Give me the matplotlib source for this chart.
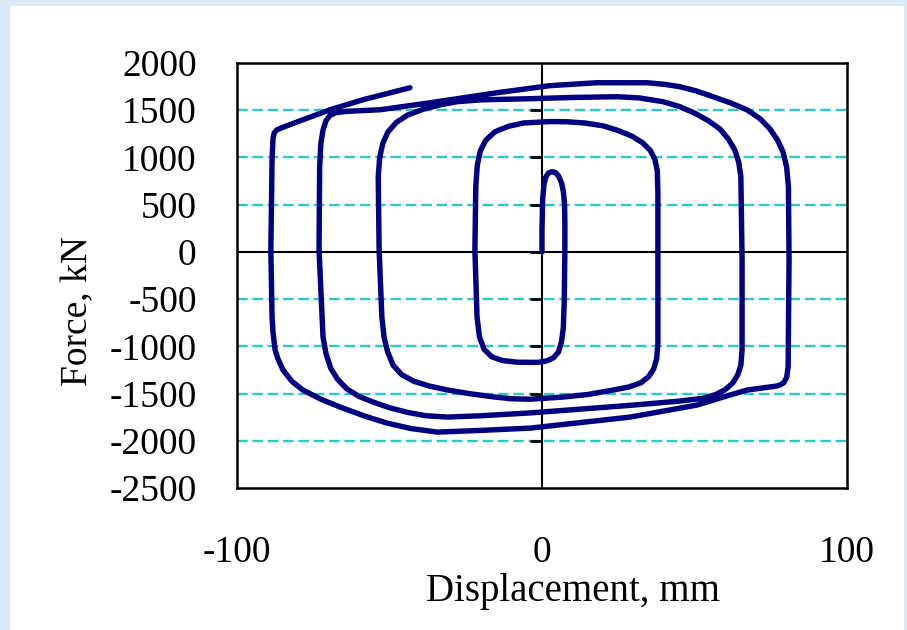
import numpy as np
import matplotlib
matplotlib.use("Agg")
import matplotlib.pyplot as plt
from matplotlib.patches import Rectangle
from matplotlib.lines import TICKLEFT

# Hysteresis curve (displacement in mm, force in kN)
disp = [0.0, 0.0, 0.2, 0.6, 1.2, 2.2, 3.3, 4.5, 5.5, 6.4, 7.0, 7.4, 7.5, 7.5,
        7.3, 7.0, 6.4, 5.4, 3.8, 1.5, -1.5, -8.2, -13.0, -16.5, -19.0, -20.5,
        -21.3, -22.0, -21.7, -21.2, -20.2, -18.5, -15.5, -11.0, -6.0, 2.6, 8.0,
        14.0, 20.0, 25.0, 29.5, 33.0, 35.5, 37.0, 37.8, 38.0,
        38.0, 38.0, 37.6, 36.6, 35.0, 32.5, 28.5, 23.3, 15.0, 6.9, -3.9, -10.0,
        -16.0, -24.0, -31.0, -37.0, -42.0, -46.0, -48.8, -50.6, -51.8, -52.5,
        -53.4, -53.7, -53.2, -52.2, -50.5, -47.8, -44.0, -39.0, -33.0, -27.9,
        -20.0, -3.9, 10.0, 24.6, 32.0, 39.7, 45.0, 50.0, 54.5, 58.4, 61.2, 63.2,
        64.5, 65.2, 65.6, 65.6, 65.2, 64.2, 62.5, 60.0, 57.0, 53.0, 45.0, 28.9,
        -3.9, -20.0, -31.1, -38.0, -44.0, -50.0, -55.4, -60.0, -64.0, -67.0,
        -69.3, -70.8, -71.8, -73.1, -72.9, -72.5, -71.8, -70.8, -69.5, -67.5,
        -64.0, -53.1, -36.7, -14.8, 2.6, 18.0, 34.4, 40.0, 45.2, 50.5, 56.1,
        62.0, 67.2, 71.5, 74.8, 77.3, 79.0, 80.2, 80.8, 81.0, 80.7, 80.2, 79.3,
        78.0, 77.0, 67.2, 61.6, 50.8, 28.9, -3.9, -20.0, -34.4, -43.0, -50.8,
        -58.0, -66.2, -72.5, -78.4, -82.0, -84.9, -86.6, -87.5, -88.2, -88.5,
        -88.9, -88.5, -88.2, -87.8, -86.9, -84.9, -78.4, -69.5, -58.7, -43.3]
force = [0, 233, 551, 700, 790, 838, 850, 838, 800, 730, 640, 500, 300, 21,
         -509, -800, -950, -1060, -1120, -1155, -1170, -1168, -1150, -1110, -1030, -900,
         -689, 21, 700, 920, 1070, 1180, 1270, 1330, 1365, 1380, 1378,
         1365, 1335, 1285, 1225, 1155, 1075, 980, 860, 625,
         -85, -965, -1130, -1240, -1320, -1385, -1430, -1463, -1510, -1537, -1560, -1555,
         -1535, -1500, -1462, -1420, -1370, -1300, -1200, -1060, -900, -689,
         21, 800, 1000, 1150, 1270, 1370, 1450, 1510, 1560, 1590,
         1610, 1622, 1635, 1643, 1630, 1590, 1540, 1470, 1390, 1300, 1190, 1080,
         950, 795, -85, -1039, -1200, -1300, -1390, -1460, -1510, -1550, -1580, -1625,
         -1705, -1735, -1749, -1735, -1700, -1650, -1590, -1530, -1450, -1350,
         -1230, -1080, -900, 21, 900, 1150, 1290, 1390, 1445, 1475,
         1488, 1505, 1579, 1685, 1760, 1791, 1791, 1775, 1749, 1705, 1643,
         1575, 1505, 1410, 1300, 1180, 1060, 900, 689, -85, -1219, -1330, -1385,
         -1410, -1420, -1463, -1516, -1622, -1749, -1866, -1890, -1908, -1870, -1813,
         -1740, -1643, -1560, -1463, -1370, -1251, -1130, -1039, -850, -689,
         21, 975, 1200, 1260, 1293, 1320, 1399, 1505, 1611, 1738]

x_ticks = [-100, 0, 100]
y_ticks = [-2500, -2000, -1500, -1000, -500, 0, 500, 1000, 1500, 2000]
x_label = "Displacement, mm"
y_label = "Force, kN"

plt.rcParams['font.family'] = ['Liberation Serif', 'DejaVu Serif']

fig = plt.figure(figsize=(9.07, 6.30), dpi=100)
fig.patch.set_facecolor('#d9eaf6')
bg = Rectangle((10/907, 0), (904-10)/907, 1-6/630,
               transform=fig.transFigure, facecolor='white',
               edgecolor='none', zorder=-10)
fig.add_artist(bg)

ax = fig.add_axes([237/907, 1-488/630, (847-237)/907, (488-63)/630])
ax.set_zorder(5)
ax.set_xlim(-100, 100)
ax.set_ylim(-2500, 2000)
ax.set_xticks(x_ticks)
ax.set_yticks(y_ticks)
ax.set_xticklabels([str(v) for v in x_ticks])
ax.set_yticklabels([str(v) for v in y_ticks])
ax.tick_params(axis='both', length=0, labelsize=27)
ax.tick_params(axis='y', pad=29)
ax.tick_params(axis='x', pad=34)

for s in ax.spines.values():
    s.set_linewidth(1.8)
    s.set_color('black')

# dashed grid lines
for yv in y_ticks[1:-1]:
    if yv != 0:
        ax.axhline(yv, color='#2ec8c8', lw=1.7, linestyle=(0, (4.5, 2)), zorder=1)

# axes through origin
ax.axhline(0, color='black', lw=1.5, zorder=2)
ax.axvline(0, color='black', lw=1.5, zorder=2)
ax.plot([0]*len(y_ticks[1:-1]), y_ticks[1:-1], linestyle='none', marker=TICKLEFT,
        markersize=9, markeredgewidth=2, color='black', zorder=2, clip_on=False)

ax.plot(disp, force, color='#000080', lw=3.9, solid_joinstyle='round',
        solid_capstyle='round', zorder=3)

fig.text(573/907, 1-592/630, x_label, ha='center', va='center', fontsize=28)
fig.text(78/907, 1-311/630, y_label, ha='center', va='center', fontsize=27,
         rotation=90)

fig.savefig('out.png', dpi=100, facecolor=fig.get_facecolor())
